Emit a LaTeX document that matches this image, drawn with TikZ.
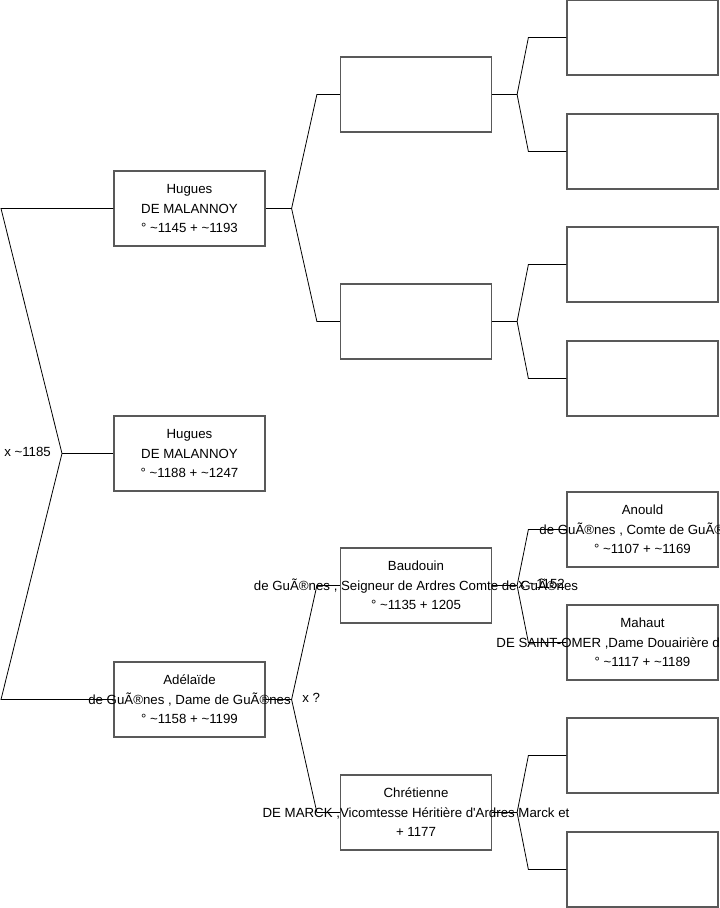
\documentclass[tikz,border=0pt]{standalone}
\usepackage{fontspec}
\setmainfont{Liberation Sans}
\tikzset{
  person/.style={rectangle, draw=black!65, line width=0.9pt, fill=white,
    minimum width=113.25pt, minimum height=56.25pt, inner sep=0pt},
  who/.style={align=center, inner sep=0pt, font=\fontsize{9.95}{14.6}\selectfont},
  wed/.style={anchor=west, inner sep=0pt, font=\fontsize{9.95}{12}\selectfont},
  link/.style={draw=black, line width=0.6pt},
}
\newcommand\tl{\textasciitilde}

\begin{document}
\begin{tikzpicture}[x=0.75pt, y=-0.75pt]
    \useasboundingbox (0,0) rectangle (719,908);
    % generation 1
    \node[person] (hugues) at (189.5,208.5) {};
    \node[person] (huguesB) at (189.5,453.5) {};
    \node[person] (adelaide) at (189.5,699.5) {};
    % generation 2
    \node[person] (pereH) at (416,94.5) {};
    \node[person] (mereH) at (416,321.5) {};
    \node[person] (baudouin) at (416,585.5) {};
    \node[person] (chretienne) at (416,812.5) {};
    % generation 3
    \node[person] (gpA) at (642.5,37.5) {};
    \node[person] (gmA) at (642.5,151.5) {};
    \node[person] (gpB) at (642.5,264.5) {};
    \node[person] (gmB) at (642.5,378.5) {};
    \node[person] (anould) at (642.5,529.5) {};
    \node[person] (mahaut) at (642.5,642.5) {};
    \node[person] (gpD) at (642.5,755.5) {};
    \node[person] (gmD) at (642.5,869.5) {};

    % names
    \node[who] (hugues-t) at (hugues) {Hugues\\DE MALANNOY\\° \tl1145 + \tl1193};
    \node[who] (huguesB-t) at (huguesB) {Hugues\\DE MALANNOY\\° \tl1188 + \tl1247};
    \node[who] (adelaide-t) at (adelaide) {Adélaïde\\de GuÃ®nes , Dame de GuÃ®nes\\° \tl1158 + \tl1199};
    \node[who] (baudouin-t) at (baudouin) {Baudouin\\de GuÃ®nes , Seigneur de Ardres Comte de GuÃ®nes\\° \tl1135 + 1205};
    \node[who] (chretienne-t) at (chretienne) {Chrétienne\\DE MARCK ,Vicomtesse Héritière d\textquotesingle Ardres Marck et\\+ 1177};
    \node[who] (anould-t) at (anould) {Anould\\de GuÃ®nes , Comte de GuÃ®nes\\° \tl1107 + \tl1169};
    \node[who] (mahaut-t) at (mahaut) {Mahaut\\DE SAINT-OMER ,Dame Douairière de GuÃ®nes\\° \tl1117 + \tl1189};

    % unions
    \coordinate (root) at (62,453.5);
    \node[wed] (wed0) at (4,452) {x \tl1185};
    \node[wed] (wed1) at (302,698) {x ?};
    \node[wed] (wed2) at (518,584) {x \tl1152};

    % connectors
    \draw[link] (hugues.west) -- (1,208.5) -- (root) -- (1,699.5) -- (adelaide.west);
    \draw[link] (root) -- (huguesB.west);
    \draw[link] (hugues.east) -- ++(26,0) coordinate (f1);
    \draw[link] (pereH.west) -- ++(-23,0) -- (f1) -- ([xshift=-17.25pt]mereH.west) -- (mereH.west);
    \draw[link] (adelaide.east) -- ++(26,0) coordinate (f2);
    \draw[link] (baudouin.west) -- ++(-23,0) -- (f2) -- ([xshift=-17.25pt]chretienne.west) -- (chretienne.west);
    \draw[link] (pereH.east) -- ++(25,0) coordinate (f3);
    \draw[link] (gpA.west) -- ++(-38,0) -- (f3) -- ([xshift=-28.5pt]gmA.west) -- (gmA.west);
    \draw[link] (mereH.east) -- ++(25,0) coordinate (f4);
    \draw[link] (gpB.west) -- ++(-38,0) -- (f4) -- ([xshift=-28.5pt]gmB.west) -- (gmB.west);
    \draw[link] (baudouin.east) -- ++(25,0) coordinate (f5);
    \draw[link] (anould.west) -- ++(-38,0) -- (f5) -- ([xshift=-28.5pt]mahaut.west) -- (mahaut.west);
    \draw[link] (chretienne.east) -- ++(25,0) coordinate (f6);
    \draw[link] (gpD.west) -- ++(-38,0) -- (f6) -- ([xshift=-28.5pt]gmD.west) -- (gmD.west);
\end{tikzpicture}
\end{document}
